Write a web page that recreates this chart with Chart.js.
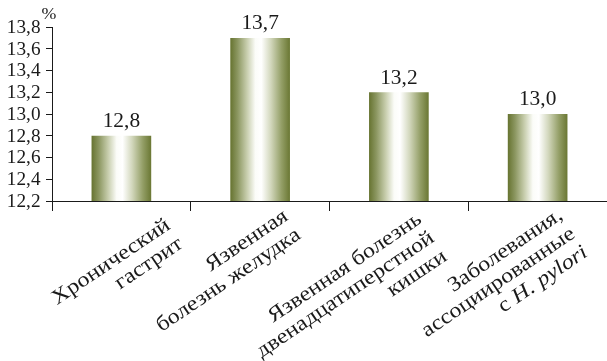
<!DOCTYPE html>
<html>
<head>
<meta charset="utf-8">
<script src="https://cdn.jsdelivr.net/npm/chart.js@4.4.1/dist/chart.umd.min.js"></script>
<style>
  html, body { margin: 0; padding: 0; background: #fff; }
  #wrap { width: 607px; height: 361px; }
</style>
</head>
<body>
<div id="wrap"><canvas id="chart"></canvas></div>
<script>
// data
var categories = [
    ["Хронический", "гастрит"],
    ["Язвенная", "болезнь желудка"],
    ["Язвенная болезнь", "двенадцатиперстной", "кишки"],
    ["Заболевания,", "ассоциированные", "с H. pylori"]
]
var values = [12.8, 13.7, 13.2, 13.0]
var yMin = 12.2
var yMax = 13.8
var yStep = 0.2
var unit = "%"

var serif = '"Liberation Serif", "Times New Roman", serif'
var ink = '#1a1a1a'

function fmt(v) {
    return v.toFixed(1).replace('.', ',')
}

function barFill(c) {
    var chart = c.chart
    if (!chart.chartArea) return '#8a9553'
    var xs = chart.scales.x
    var x = xs.getPixelForValue(c.dataIndex)
    var w = xs.width / categories.length * 0.43
    var g = chart.ctx.createLinearGradient(x - w / 2, 0, x + w / 2, 0)
    g.addColorStop(0, '#667330')
    g.addColorStop(0.12, '#8b9660')
    g.addColorStop(0.28, '#c8ceae')
    g.addColorStop(0.42, '#fbfcf8')
    g.addColorStop(0.52, '#ffffff')
    g.addColorStop(0.68, '#d2d7bc')
    g.addColorStop(0.86, '#939e66')
    g.addColorStop(1, '#6a7733')
    return g
}

// text with a slight horizontal stretch, like the wide serif of the original
function put(ctx, text, x, y, size, sx, align, base) {
    ctx.save()
    ctx.translate(x, y)
    ctx.scale(sx, 1)
    ctx.font = size + 'px ' + serif
    ctx.textAlign = align
    ctx.textBaseline = base
    ctx.fillText(text, 0, 0)
    ctx.restore()
}

var textPlugin = {
    id: 'texts',
    afterDraw: function (chart) {
        var ctx = chart.ctx
        var xs = chart.scales.x
        var ys = chart.scales.y
        var meta = chart.getDatasetMeta(0)
        ctx.save()
        ctx.fillStyle = ink

        // y tick labels
        ys.ticks.forEach(function (t) {
            put(ctx, fmt(t.value), 40.5, ys.getPixelForValue(t.value) + 1, 18.5, 1.04, 'right', 'middle')
        })
        put(ctx, unit, 49, 15, 17, 1.05, 'center', 'middle')

        // value labels
        meta.data.forEach(function (bar, i) {
            put(ctx, fmt(values[i]), bar.x, bar.y - 4, 20, 1.07, 'center', 'bottom')
        })

        // category labels, rotated
        var ang = -34 * Math.PI / 180
        var lh = 22.5
        var dx = [50, 29, 24, 26]
        var by = [228, 219, 222, 218]
        categories.forEach(function (lines, i) {
            ctx.save()
            ctx.translate(xs.getPixelForValue(i) + dx[i], by[i])
            ctx.rotate(ang)
            ctx.scale(1.14, 1)
            ctx.textAlign = 'right'
            ctx.textBaseline = 'alphabetic'
            lines.forEach(function (line, j) {
                var y = j * lh
                var k = line.indexOf('H. pylori')
                if (k >= 0) {
                    ctx.font = 'italic 21px ' + serif
                    var it = line.slice(k)
                    var w = ctx.measureText(it).width
                    ctx.fillText(it, 0, y)
                    ctx.font = '21px ' + serif
                    ctx.fillText(line.slice(0, k), -w, y)
                } else {
                    ctx.font = '21px ' + serif
                    ctx.fillText(line, 0, y)
                }
            })
            ctx.restore()
        })
        ctx.restore()
    }
}

new Chart(document.getElementById('chart'), {
    type: 'bar',
    data: {
        labels: categories,
        datasets: [{
            data: values,
            backgroundColor: barFill,
            borderWidth: 0,
            categoryPercentage: 1,
            barPercentage: 0.43
        }]
    },
    options: {
        responsive: true,
        maintainAspectRatio: false,
        animation: false,
        layout: { padding: { top: 27, right: 0, left: 0, bottom: 0 } },
        plugins: {
            legend: { display: false },
            tooltip: { enabled: false }
        },
        scales: {
            x: {
                offset: true,
                grid: { offset: true, drawOnChartArea: false, drawTicks: true, tickLength: 10, color: ink, lineWidth: 1 },
                border: { display: true, color: ink, width: 1 },
                ticks: { display: false },
                afterFit: function (s) { s.height = 160 }
            },
            y: {
                min: yMin,
                max: yMax,
                ticks: { display: false, stepSize: yStep },
                grid: { drawOnChartArea: false, drawTicks: true, tickLength: 6, color: ink, lineWidth: 1 },
                border: { display: true, color: ink, width: 1 },
                afterFit: function (s) { s.width = 52 }
            }
        }
    },
    plugins: [textPlugin]
});
</script>
</body>
</html>
